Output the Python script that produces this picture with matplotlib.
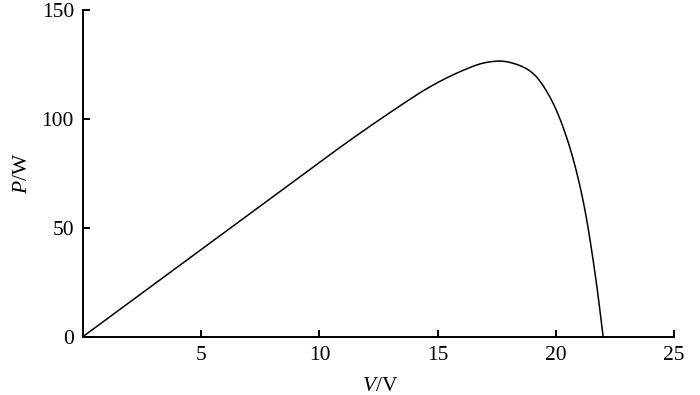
import numpy as np
import matplotlib
matplotlib.use("Agg")
import matplotlib.pyplot as plt

# Data (V in volts, P in watts)
voltage = [0, 10, 13.97, 16.51, 17.5, 18.35, 19.05, 19.75, 20.45, 21.15, 21.7, 22.0]
power = [0, 80.0, 110.0, 124.2, 126.5, 125.0, 120.7, 110.0, 91.7, 62.6, 25.9, 0]
x_ticks = [5, 10, 15, 20, 25]
y_ticks = [0, 50, 100, 150]


def pchip(x, y, xs):
    x = np.asarray(x, float)
    y = np.asarray(y, float)
    h = np.diff(x)
    d = np.diff(y) / h
    m = np.zeros_like(x)
    for k in range(1, len(x) - 1):
        if d[k - 1] * d[k] > 0:
            w1 = 2 * h[k] + h[k - 1]
            w2 = h[k] + 2 * h[k - 1]
            m[k] = (w1 + w2) / (w1 / d[k - 1] + w2 / d[k])
    m[0] = d[0]
    m[-1] = d[-1]
    idx = np.clip(np.searchsorted(x, xs) - 1, 0, len(x) - 2)
    t = (xs - x[idx]) / h[idx]
    h00 = 2 * t**3 - 3 * t**2 + 1
    h10 = t**3 - 2 * t**2 + t
    h01 = -2 * t**3 + 3 * t**2
    h11 = t**3 - t**2
    return h00 * y[idx] + h10 * h[idx] * m[idx] + h01 * y[idx + 1] + h11 * h[idx] * m[idx + 1]


# smooth the curve through the read points by interpolating P/V (the current)
v = np.asarray(voltage, float)
p = np.asarray(power, float)
cur = np.empty_like(v)
cur[1:] = p[1:] / v[1:]
cur[0] = cur[1]
xs = np.linspace(v[0], v[-1], 600)
ys = xs * pchip(v, cur, xs)

plt.rcParams['font.family'] = ['Liberation Serif', 'DejaVu Serif']
plt.rcParams['mathtext.fontset'] = 'custom'
plt.rcParams['mathtext.rm'] = 'Liberation Serif'
plt.rcParams['mathtext.it'] = 'Liberation Serif:italic'

fig = plt.figure(figsize=(7, 3.95), dpi=100)
ax = fig.add_axes([0.1186, 0.148, 0.8443, 0.8267])

ax.plot(xs, ys, color='black', lw=1.1)

ax.set_xlim(0, 25)
ax.set_ylim(0, 150)
ax.set_xticks(x_ticks)
ax.set_yticks(y_ticks)
ax.spines['top'].set_visible(False)
ax.spines['right'].set_visible(False)
for s in ('left', 'bottom'):
    ax.spines[s].set_linewidth(1.4)
ax.tick_params(direction='in', length=5, width=1.4, labelsize=15.5, pad=6.5)

ax.set_xlabel(r'$\mathit{V}$/V', fontsize=15.5)
ax.set_ylabel(r'$\mathit{P}$/W', fontsize=15.5)
ax.xaxis.set_label_coords(0.503, -0.125)
ax.yaxis.set_label_coords(-0.087, 0.5)

fig.savefig('out.png', dpi=100)
